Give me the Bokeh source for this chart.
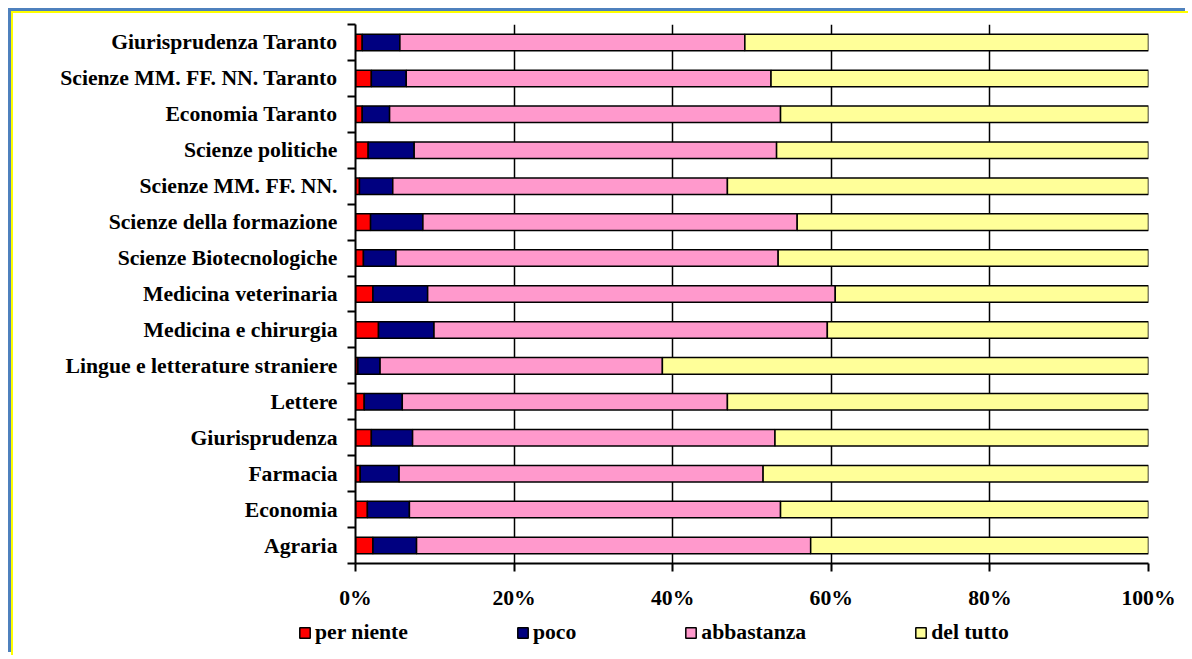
from bokeh.plotting import figure
from bokeh.layouts import column
from bokeh.models import Range1d, FixedTicker, Legend, LegendItem, ColumnDataSource
from bokeh.embed import file_html
from bokeh.resources import INLINE

categories = [
    "Agraria", "Economia", "Farmacia", "Giurisprudenza", "Lettere",
    "Lingue e letterature straniere", "Medicina e chirurgia", "Medicina veterinaria",
    "Scienze Biotecnologiche", "Scienze della formazione", "Scienze MM. FF. NN.",
    "Scienze politiche", "Economia Taranto", "Scienze MM. FF. NN. Taranto",
    "Giurisprudenza Taranto",
]
per_niente = [2.2, 1.5, 0.6, 2.0, 1.1, 0.3, 2.9, 2.2, 1.0, 1.9, 0.5, 1.6, 0.85, 2.0, 0.85]
poco       = [5.5, 5.3, 4.9, 5.2, 4.8, 2.8, 7.0, 6.9, 4.1, 6.6, 4.2, 5.8, 3.45, 4.4, 4.75]
abbastanza = [49.7, 46.8, 45.9, 45.7, 41.0, 35.6, 49.6, 51.4, 48.2, 47.2, 42.2, 45.7, 49.3, 46.0, 43.5]
del_tutto  = [42.6, 46.4, 48.6, 47.1, 53.1, 61.3, 40.5, 39.5, 46.7, 44.3, 53.1, 46.9, 46.4, 47.6, 50.9]

series = ["per_niente", "poco", "abbastanza", "del_tutto"]
series_labels = ["per niente", "poco", "abbastanza", "del tutto"]
colors = ["#FF0000", "#000080", "#FF99CC", "#FFFF99"]

x_ticks = [0, 20, 40, 60, 80, 100]
x_tick_labels = ["0%", "20%", "40%", "60%", "80%", "100%"]

ypos = [i + 0.5 for i in range(len(categories))]
src = ColumnDataSource(dict(y=ypos, per_niente=per_niente, poco=poco,
                            abbastanza=abbastanza, del_tutto=del_tutto))

FONT = "Liberation Serif"
FS = "21.7px"

p = figure(frame_width=793, frame_height=539,
           x_range=Range1d(0, 100), y_range=Range1d(0, len(categories)),
           output_backend="svg", toolbar_location=None,
           min_border_left=342, min_border_top=11, min_border_right=40, min_border_bottom=52)
p.outline_line_color = None

renderers = p.hbar_stack(series, y="y", height=0.46, fill_color=colors,
                         line_color="black", line_width=1.5, source=src)

p.ygrid.visible = False
p.xgrid.ticker = FixedTicker(ticks=[20, 40, 60, 80, 100])
p.xgrid.grid_line_color = "black"
p.xgrid.grid_line_width = 1.5
p.xgrid.level = "underlay"

ya = p.yaxis[0]
ya.ticker = FixedTicker(ticks=ypos, minor_ticks=list(range(len(categories) + 1)))
ya.major_label_overrides = {y: c for y, c in zip(ypos, categories)}
ya.major_tick_out = 0
ya.major_tick_in = 0
ya.minor_tick_out = 8
ya.minor_tick_in = 0
ya.minor_tick_line_width = 2
ya.axis_line_width = 2
ya.major_label_standoff = 10
ya.major_label_text_font = FONT
ya.major_label_text_font_style = "bold"
ya.major_label_text_font_size = FS
ya.major_label_text_color = "black"

xa = p.xaxis[0]
xa.ticker = FixedTicker(ticks=x_ticks)
xa.major_label_overrides = {t: l for t, l in zip(x_ticks, x_tick_labels)}
xa.major_tick_out = 8
xa.major_tick_in = 0
xa.major_tick_line_width = 2
xa.minor_tick_out = 0
xa.minor_tick_in = 0
xa.axis_line_width = 2
xa.major_label_standoff = 14
xa.major_label_text_font = FONT
xa.major_label_text_font_style = "bold"
xa.major_label_text_font_size = FS
xa.major_label_text_color = "black"

# legend strip below the chart (its own frame, so nothing is clipped)
lg = figure(width=1175, height=40, x_range=Range1d(0, 100), y_range=Range1d(0, 1),
            output_backend="svg", toolbar_location=None,
            x_axis_location=None, y_axis_location=None,
            min_border=0, min_border_left=0, min_border_right=0,
            min_border_top=0, min_border_bottom=0)
lg.outline_line_color = None
lg.grid.visible = False
leg_renderers = lg.hbar_stack(series, y="y", height=0.46, fill_color=colors,
                              line_color="black", line_width=1.5, source=src)
for r in leg_renderers:
    r.visible = False

for fig in (p, lg):
    try:
        fig.frame_align = False
    except Exception:
        pass

legend = Legend(
    items=[LegendItem(label=l, renderers=[r]) for l, r in zip(series_labels, leg_renderers)],
    orientation="horizontal", location=(285, 10),
    border_line_color=None, background_fill_alpha=0,
    label_text_font=FONT, label_text_font_style="bold", label_text_font_size=FS,
    label_text_color="black",
    glyph_width=13, glyph_height=13, label_standoff=4, spacing=108,
    padding=0, margin=0,
)
lg.add_layout(legend)

layout = column(p, lg, spacing=0)
layout.styles = {"margin-left": "11px", "margin-top": "11px",
                 "border-top": "2px solid #FFFF00", "border-left": "2px solid #FFFF00",
                 "box-shadow": "-3px -3px 0 0 #4F81BD"}

open("out.html", "w").write(file_html(layout, INLINE))
